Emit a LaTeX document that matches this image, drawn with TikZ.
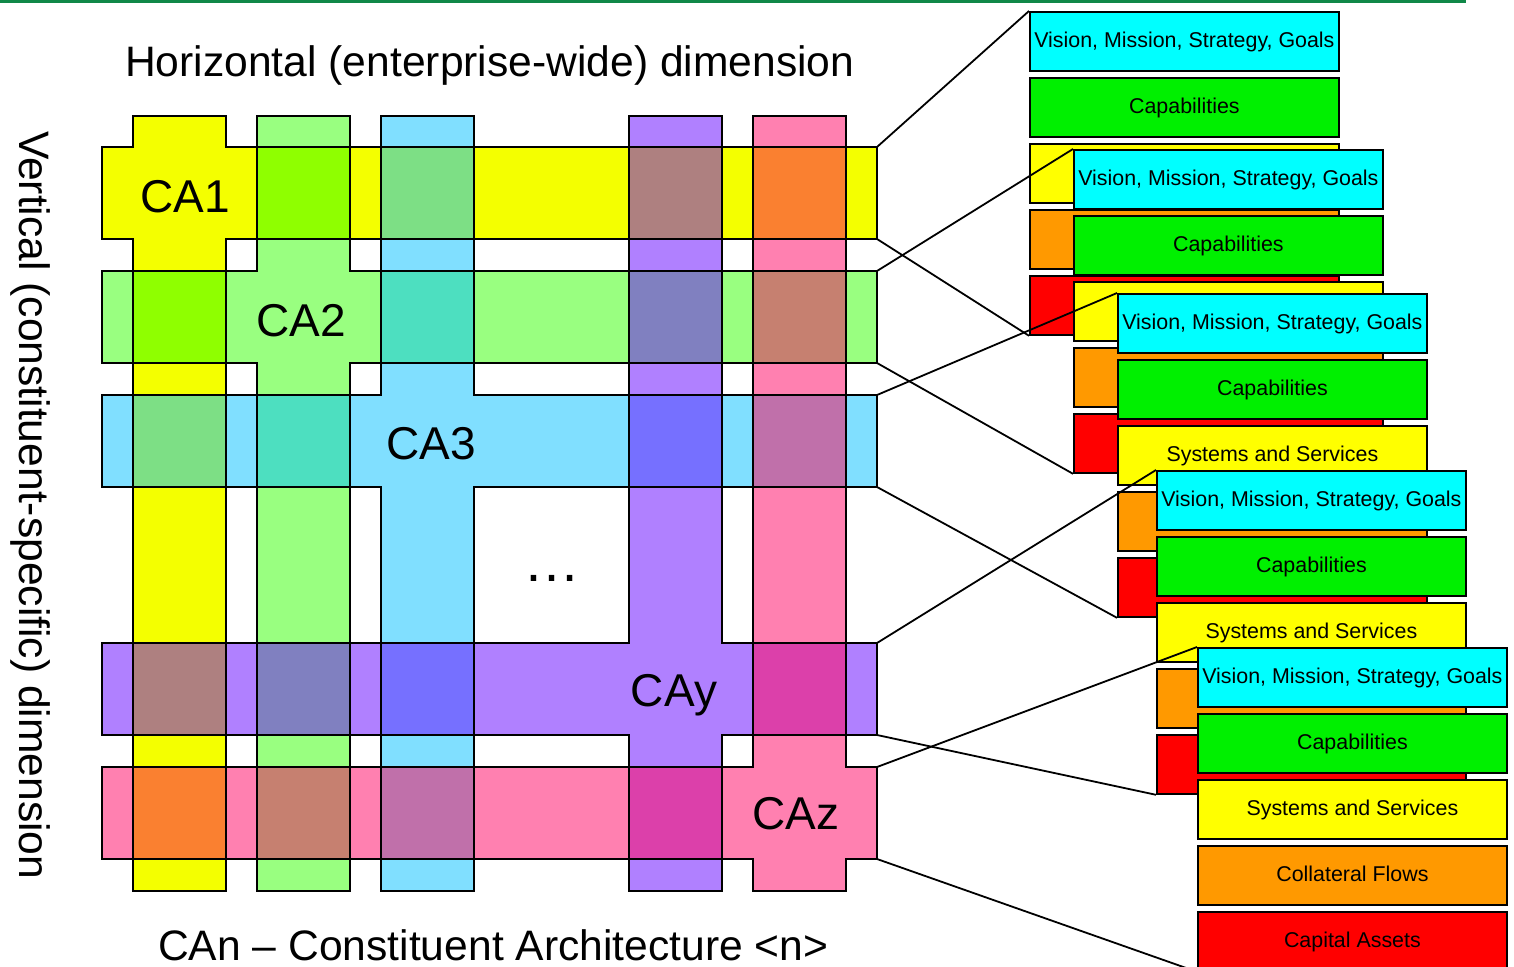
\documentclass[tikz,border=0pt]{standalone}
\usepackage{fontspec}
\setmainfont{Liberation Sans}

% band colours of the five constituent architectures
\definecolor{caY}{RGB}{244,255,0}
\definecolor{caG}{RGB}{153,255,128}
\definecolor{caB}{RGB}{128,223,255}
\definecolor{caP}{RGB}{176,128,255}
\definecolor{caK}{RGB}{255,128,176}
% colours where two architectures overlap
\definecolor{mixYG}{RGB}{143,255,0}
\definecolor{mixYB}{RGB}{125,223,133}
\definecolor{mixYP}{RGB}{174,128,128}
\definecolor{mixYK}{RGB}{250,128,48}
\definecolor{mixGB}{RGB}{77,223,192}
\definecolor{mixGP}{RGB}{128,128,192}
\definecolor{mixGK}{RGB}{198,128,112}
\definecolor{mixBP}{RGB}{118,112,255}
\definecolor{mixBK}{RGB}{192,112,170}
\definecolor{mixPK}{RGB}{220,64,170}
% layer colours
\definecolor{pvision}{RGB}{0,255,255}
\definecolor{pcap}{RGB}{0,240,0}
\definecolor{psys}{RGB}{255,255,0}
\definecolor{pflow}{RGB}{255,153,0}
\definecolor{passet}{RGB}{255,0,0}
\definecolor{topgreen}{RGB}{16,136,72}

% one stack of five layer boxes: id, left x, top y, texts of layers 3-5
\newcommand\panelstack[6]{%
  \node[panelbox, fill=pvision] (s#1a) at (#2,#3) {Vision, Mission, Strategy, Goals};
  \node[panelbox, fill=pcap]    (s#1b) at (#2,{#3+66}) {Capabilities};
  \node[panelbox, fill=psys]    (s#1c) at (#2,{#3+132}) {#4};
  \node[panelbox, fill=pflow]   (s#1d) at (#2,{#3+198}) {#5};
  \node[panelbox, fill=passet]  (s#1e) at (#2,{#3+264}) {#6};
}

\begin{document}
\begin{tikzpicture}[x=1pt,y=-1pt,
  crossline/.style={draw=black, line width=2.2pt, line join=miter},
  link/.style={draw=black, line width=1.8pt},
  panelbox/.style={draw=black, line width=1.8pt, anchor=north west, inner sep=0pt,
    minimum width=309pt, minimum height=59pt, text height=17pt, text depth=4pt,
    font=\fontsize{21.4}{25}\selectfont},
  calabel/.style={anchor=base, inner sep=0pt, font=\fontsize{46}{50}\selectfont},
  bigtext/.style={inner sep=0pt, font=\fontsize{42.6}{50}\selectfont}]
\clip (0,0) rectangle (1514,966);

% rule along the top edge
\fill[topgreen] (0,0) rectangle (1466,3.5);

% cross-shaped bands: column [a,b] and row [c,d]
\foreach \a/\b/\c/\d/\col in {133/226/147/239/caY, 257/350/271/363/caG,
    381/474/395/487/caB, 629/722/643/735/caP, 753/846/767/859/caK}
  \fill[\col] (\a,116) -- (\b,116) -- (\b,\c) -- (877,\c) -- (877,\d) -- (\b,\d)
    -- (\b,891) -- (\a,891) -- (\a,\d) -- (102,\d) -- (102,\c) -- (\a,\c) -- cycle;

% overlaps of a row of one architecture with a column of another
\foreach \ya/\yb/\xa/\xb/\m in {
    147/239/257/350/mixYG, 147/239/381/474/mixYB, 147/239/629/722/mixYP, 147/239/753/846/mixYK,
    271/363/133/226/mixYG, 271/363/381/474/mixGB, 271/363/629/722/mixGP, 271/363/753/846/mixGK,
    395/487/133/226/mixYB, 395/487/257/350/mixGB, 395/487/629/722/mixBP, 395/487/753/846/mixBK,
    643/735/133/226/mixYP, 643/735/257/350/mixGP, 643/735/381/474/mixBP, 643/735/753/846/mixPK,
    767/859/133/226/mixYK, 767/859/257/350/mixGK, 767/859/381/474/mixBK, 767/859/629/722/mixPK}
  \fill[\m] (\xa,\ya) rectangle (\xb,\yb);

% outlines of the crosses, and the right-hand corners of each row
\foreach \i/\a/\b/\c/\d in {1/133/226/147/239, 2/257/350/271/363,
    3/381/474/395/487, 4/629/722/643/735, 5/753/846/767/859} {
  \draw[crossline] (\a,116) -- (\b,116) -- (\b,\c) -- (877,\c) -- (877,\d) -- (\b,\d)
    -- (\b,891) -- (\a,891) -- (\a,\d) -- (102,\d) -- (102,\c) -- (\a,\c) -- cycle;
  \coordinate (r\i ne) at (877,\c);
  \coordinate (r\i se) at (877,\d);
}

% architecture labels
\node[calabel] (ca1) at (185,212) {CA1};
\node[calabel] (ca2) at (301,336) {CA2};
\node[calabel] (ca3) at (431,459) {CA3};
\node[calabel] (cay) at (674,706) {CAy};
\node[calabel] (caz) at (796,829) {CAz};
\node[anchor=base, inner sep=0pt, font=\fontsize{57}{60}\selectfont] (dots) at (552,581) {\textellipsis};

% axis captions
\node[bigtext, anchor=base west] (htitle) at (125,77) {Horizontal (enterprise-wide) dimension};
\node[bigtext, anchor=base west] (legend) at (158,960) {CAn -- Constituent Architecture <n>};
\node[bigtext, anchor=base west, rotate=-90] (vtitle) at (19,131) {Vertical (constituent-specific) dimension};

% layer stacks, each fanned out from its row
\panelstack{1}{1029}{11}{}{}{}
\draw[link] (r1ne) -- (s1a.north west);
\draw[link] (r1se) -- (s1e.south west);
\panelstack{2}{1073}{149}{}{}{}
\draw[link] (r2ne) -- (s2a.north west);
\draw[link] (r2se) -- (s2e.south west);
\panelstack{3}{1117}{293}{Systems and Services}{}{}
\draw[link] (r3ne) -- (s3a.north west);
\draw[link] (r3se) -- (s3e.south west);
\panelstack{4}{1156}{470}{Systems and Services}{}{}
\draw[link] (r4ne) -- (s4a.north west);
\draw[link] (r4se) -- (s4e.south west);
\panelstack{5}{1197}{647}{Systems and Services}{Collateral Flows}{Capital Assets}
\draw[link] (r5ne) -- (s5a.north west);
\draw[link] (r5se) -- (s5e.south west);
\end{tikzpicture}
\end{document}
